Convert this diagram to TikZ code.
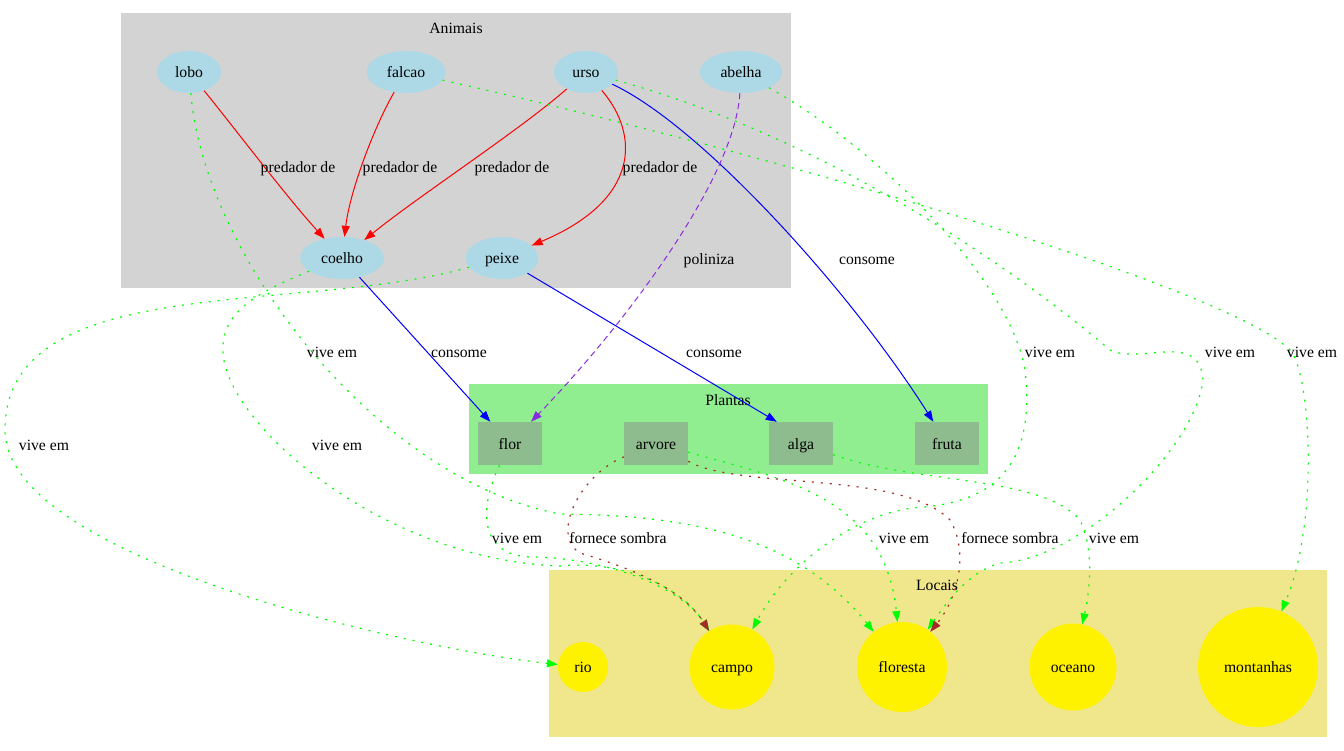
\documentclass[tikz,border=0pt]{standalone}
\usepackage{fontspec}
\setmainfont{Liberation Serif}
\usetikzlibrary{arrows.meta,shapes.geometric}
\definecolor{boxgray}{HTML}{D3D3D3}
\definecolor{boxgreen}{HTML}{90EE90}
\definecolor{boxkhaki}{HTML}{F0E68C}
\definecolor{animalblue}{HTML}{ADD8E6}
\definecolor{plantgreen}{HTML}{8FBC8F}
\definecolor{vivegreen}{HTML}{00FF00}
\definecolor{shadebrown}{HTML}{A52A2A}
\definecolor{polviolet}{HTML}{8A2BE2}
\tikzset{
  basic/.style  = {font=\fontsize{15.7}{18}\selectfont, inner sep=0pt, text height=12.5pt, text depth=1.5pt},
  animal/.style = {basic, ellipse, fill=animalblue, inner xsep=8.7pt, minimum width=64pt, minimum height=42pt},
  plant/.style  = {basic, rectangle, fill=plantgreen, minimum width=64pt, minimum height=43pt},
  place/.style  = {basic, circle, fill=yellow},
  lbl/.style    = {basic},
  pred/.style   = {->, draw=red, line width=1pt},
  cons/.style   = {->, draw=blue, line width=1pt},
  pol/.style    = {->, draw=polviolet, line width=1pt, dash pattern=on 6pt off 4pt},
  vive/.style   = {->, draw=vivegreen, line width=1.2pt, dash pattern=on 2pt off 7pt},
  sombra/.style = {->, draw=shadebrown, line width=1.2pt, dash pattern=on 2pt off 7pt}
}
\begin{document}
\begin{tikzpicture}[x=1pt, y=-1pt,
  >={Triangle[length=11pt,width=8pt]}]
\useasboundingbox (0,0) rectangle (1344,750);

% the three clusters
\fill[boxgray] (121,13) rectangle (791,288);
\node[lbl] (tanimais) at (456,28) {Animais};
\fill[boxgreen] (469,384) rectangle (988,474);
\node[lbl] (tplantas) at (728,400) {Plantas};
\fill[boxkhaki] (549,570) rectangle (1327,737);
\node[lbl] (tlocais) at (937,585) {Locais};

% animals
\begin{scope}[every node/.style={animal}]
\node (lobo) at (189,72) {lobo};
\node (falcao) at (406,72) {falcao};
\node (urso) at (586,72) {urso};
\node (abelha) at (741,72) {abelha};
\node (coelho) at (342,258) {coelho};
\node (peixe) at (502,258) {peixe};
\end{scope}

% plants
\begin{scope}[every node/.style={plant}]
\node (flor) at (510,443.5) {flor};
\node (arvore) at (656,443.5) {arvore};
\node (alga) at (801,443.5) {alga};
\node (fruta) at (947,443.5) {fruta};
\end{scope}

% places
\node[place, minimum size=50pt] (rio) at (583,667) {rio};
\node[place, minimum size=85pt] (campo) at (732,667) {campo};
\node[place, minimum size=90pt] (floresta) at (902,667) {floresta};
\node[place, minimum size=87pt] (oceano) at (1073,667) {oceano};
\node[place, minimum size=120pt] (montanhas) at (1258,667) {montanhas};

% predador de
\draw[pred] (lobo) .. controls (240,135) and (285,195) .. (coelho);
\draw[pred] (falcao) .. controls (375,125) and (350,190) .. (coelho);
\draw[pred] (urso) .. controls (520,130) and (420,195) .. (coelho);
\draw[pred] (urso) .. controls (640,135) and (640,200) .. (peixe);

% consome and poliniza
\draw[cons] (coelho) -- (flor);
\draw[cons] (peixe) -- ([xshift=8pt]alga.north west);
\draw[cons] (urso) .. controls (700,125) and (850,290) .. (fruta);
\draw[pol] (abelha) .. controls (735,180) and (620,330) .. (flor);

% vive em
\draw[vive] (lobo) .. controls (205,260) and (380,480) .. (560,514)
  .. controls (700,515) and (800,540) .. (floresta);
\draw[vive] (peixe) .. controls (300,315) and (5,270) .. (5,430)
  .. controls (5,560) and (420,650) .. (rio);
\draw[vive] (coelho) .. controls (250,295) and (222,315) .. (223,350)
  .. controls (222,420) and (380,560) .. (560,566)
  .. controls (620,560) and (680,585) .. (campo);
\draw[vive] (flor) .. controls (478,510) and (480,555) .. (530,557)
  .. controls (600,557) and (680,585) .. (campo);
\draw[vive] (abelha) .. controls (880,150) and (1010,280) .. (1025,370)
  .. controls (1035,460) and (1000,500) .. (924,507)
  .. controls (860,510) and (790,560) .. (campo);
\draw[vive] (urso) .. controls (870,150) and (1075,320) .. (1110,350)
  .. controls (1140,365) and (1200,330) .. (1203,380)
  .. controls (1195,450) and (1080,560) .. (1000,563)
  .. controls (975,570) and (955,590) .. (floresta);
\draw[vive] (falcao) .. controls (800,160) and (1230,290) .. (1290,350)
  .. controls (1310,370) and (1320,520) .. (montanhas);
\draw[vive] (arvore) .. controls (790,480) and (885,500) .. (floresta);
\draw[vive] (alga) .. controls (920,485) and (1040,475) .. (1080,520)
  .. controls (1092,545) and (1092,580) .. (oceano);

% fornece sombra
\draw[sombra] (arvore) .. controls (580,475) and (550,535) .. (580,553)
  .. controls (620,565) and (680,585) .. (campo);
\draw[sombra] (arvore) .. controls (740,490) and (900,470) .. (950,520)
  .. controls (968,550) and (960,595) .. (floresta);

% edge labels
\begin{scope}[every node/.style={lbl}]
\node (l1) at (298,167) {predador de};
\node (l2) at (400,167) {predador de};
\node (l3) at (512,167) {predador de};
\node (l4) at (660,167) {predador de};
\node (l5) at (709,259) {poliniza};
\node (l6) at (867,259) {consome};
\node (l7) at (459,352) {consome};
\node (l8) at (714,352) {consome};
\node (l9) at (332,352) {vive em};
\node (l10) at (1050,352) {vive em};
\node (l11) at (1230,352) {vive em};
\node (l12) at (1312,352) {vive em};
\node (l13) at (44,445) {vive em};
\node (l14) at (337,445) {vive em};
\node (l15) at (517,538) {vive em};
\node (l16) at (618,538) {fornece sombra};
\node (l17) at (904,538) {vive em};
\node (l18) at (1010,538) {fornece sombra};
\node (l19) at (1114,538) {vive em};
\end{scope}
\end{tikzpicture}
\end{document}
